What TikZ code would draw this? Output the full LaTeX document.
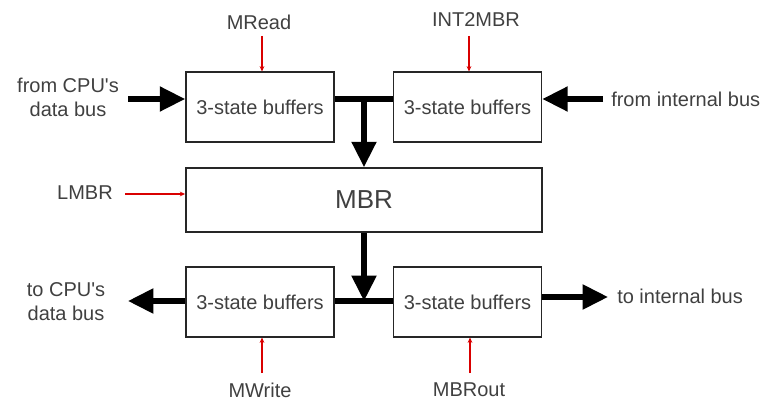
\documentclass[tikz,border=0pt]{standalone}
\usepackage{fontspec}
\setmainfont{Liberation Sans}
\newfontfamily\lsans{Liberation Sans}
\usetikzlibrary{arrows.meta}
\begin{document}
\begin{tikzpicture}[x=0.75pt,y=-0.75pt,
  txt/.style={text=black!75, font=\lsans\fontsize{15}{18}\selectfont, inner sep=0pt},
  buf/.style={draw=black!85, line width=1.3pt, minimum width=111pt, minimum height=52pt, inner sep=0pt, txt},
  bus/.style={line width=3.8pt, black},
  busarrow/.style={bus, -{Triangle[length=19pt,width=18pt]}},
  ctrl/.style={red!85!black, line width=0.8pt, -{Stealth[length=4pt,width=3.5pt]}}]
\useasboundingbox (0,0) rectangle (769,403);
% boxes
\node[buf] (b1) at (260,107) {3-state buffers};
\node[buf] (b2) at (467.5,107) {3-state buffers};
\node[buf, minimum width=267pt, minimum height=48pt, font=\lsans\fontsize{19.5}{22}\selectfont] (mbr) at (364,200) {MBR};
\node[buf] (b3) at (260,302) {3-state buffers};
\node[buf] (b4) at (467.5,302) {3-state buffers};
% bus coordinates
\coordinate (j1) at (364,99);
\coordinate (j2) at (364,301);
\coordinate (inL) at (128,99);
\coordinate (inR) at (603,99);
\coordinate (outL) at (128,301);
\coordinate (outR) at (608,297);
% buses
\draw[bus] (b1.east|-j1) -- (b2.west|-j1);
\draw[busarrow] (j1) -- (mbr.north);
\draw[busarrow] (inL) -- (b1.west|-inL);
\draw[busarrow] (inR) -- (b2.east|-inR);
\draw[bus] (b3.east|-j2) -- (b4.west|-j2);
\draw[busarrow] (mbr.south) -- (j2);
\draw[busarrow] (b3.west|-outL) -- (outL);
\draw[busarrow] (b4.east|-outR) -- (outR);
% data labels
\node[txt, align=center] (fcpu) at (68,97) {from CPU's\\data bus};
\node[txt, anchor=west] (fint) at (611,99) {from internal bus};
\node[txt, align=center] (tcpu) at (66,302) {to CPU's\\data bus};
\node[txt, anchor=west] (tint) at (617,296) {to internal bus};
% control labels
\node[txt] (mread) at (259,22) {MRead};
\node[txt] (int2) at (476,20) {INT2MBR};
\node[txt] (lmbr) at (85,193) {LMBR};
\node[txt] (mwrite) at (260,390) {MWrite};
\node[txt] (mbrout) at (469,390) {MBRout};
\coordinate (c1) at (262,36);
\coordinate (c2) at (469,36);
\coordinate (c3) at (125,194);
\coordinate (c4) at (262,373);
\coordinate (c5) at (470,373);
\draw[ctrl] (c1) -- (b1.north-|c1);
\draw[ctrl] (c2) -- (b2.north-|c2);
\draw[ctrl] (c3) -- (mbr.west|-c3);
\draw[ctrl] (c4) -- (b3.south-|c4);
\draw[ctrl] (c5) -- (b4.south-|c5);
\end{tikzpicture}
\end{document}
